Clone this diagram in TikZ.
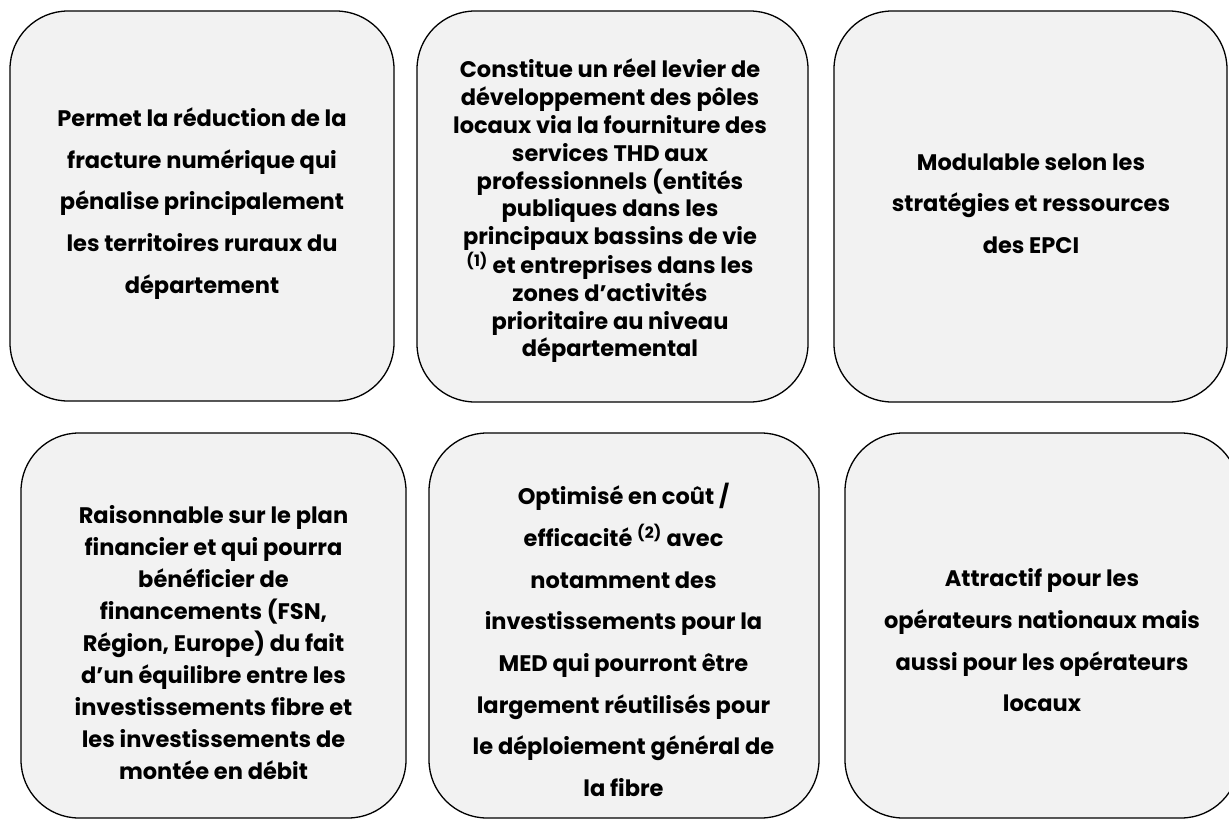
\documentclass[tikz,border=0pt]{standalone}
\usepackage{fontspec}
\setmainfont{Poppins}
\definecolor{boxfill}{HTML}{F2F2F2}
\begin{document}
\begin{tikzpicture}[x=1pt,y=-1pt,
  card/.style={draw=black,line width=1.3pt,fill=boxfill,rounded corners=58pt,
    rectangle,inner sep=0pt},
  txt/.style={align=center,inner sep=0pt,text=black},
  wide/.style={font=\bfseries\fontsize{22.5}{41.7}\selectfont},
  tight/.style={font=\bfseries\fontsize{22.5}{27.8}\selectfont},
  mid/.style={font=\bfseries\fontsize{22.5}{31.9}\selectfont}]
\useasboundingbox (0,0) rectangle (1229,819);
\begin{scope}
\clip (0,0) rectangle (1229,819);
\node[card,minimum width=384pt,minimum height=390pt] (b1) at (202,206) {};
\node[card,minimum width=391pt,minimum height=391pt] (b2) at (612.5,206.5) {};
\node[card,minimum width=393pt,minimum height=391pt] (b3) at (1030.5,206.5) {};
\node[card,minimum width=385pt,minimum height=385pt] (b4) at (213.5,625.5) {};
\node[card,minimum width=390pt,minimum height=385pt] (b5) at (624,625.5) {};
\node[card,minimum width=394pt,minimum height=385pt] (b6) at (1042,625.5) {};
\end{scope}
\node[txt,wide] (t1) at (202,203.5) {Permet la réduction de la\\fracture numérique qui\\pénalise principalement\\les territoires ruraux du\\département};
\node[txt,tight] (t2) at (610,211) {Constitue un réel levier de\\développement des pôles\\locaux via la fourniture des\\services THD aux\\professionnels (entités\\publiques dans les\\principaux bassins de vie\\\textsuperscript{(1)} et entreprises dans les\\zones d’activités\\prioritaire au niveau\\départemental};
\node[txt,wide] (t3) at (1031,203.5) {Modulable selon les\\stratégies et ressources\\des EPCI};
\node[txt,mid] (t4) at (213.5,642.5) {Raisonnable sur le plan\\financier et qui pourra\\bénéficier de\\financements (FSN,\\Région, Europe) du fait\\d’un équilibre entre les\\investissements fibre et\\les investissements de\\montée en débit};
\node[txt,wide] (t5) at (623.5,640) {Optimisé en coût /\\efficacité \textsuperscript{(2)} avec\\notamment des\\investissements pour la\\MED qui pourront être\\largement réutilisés pour\\le déploiement général de\\la fibre};
\node[txt,wide] (t6) at (1042,640.5) {Attractif pour les\\opérateurs nationaux mais\\aussi pour les opérateurs\\locaux};
\end{tikzpicture}
\end{document}
